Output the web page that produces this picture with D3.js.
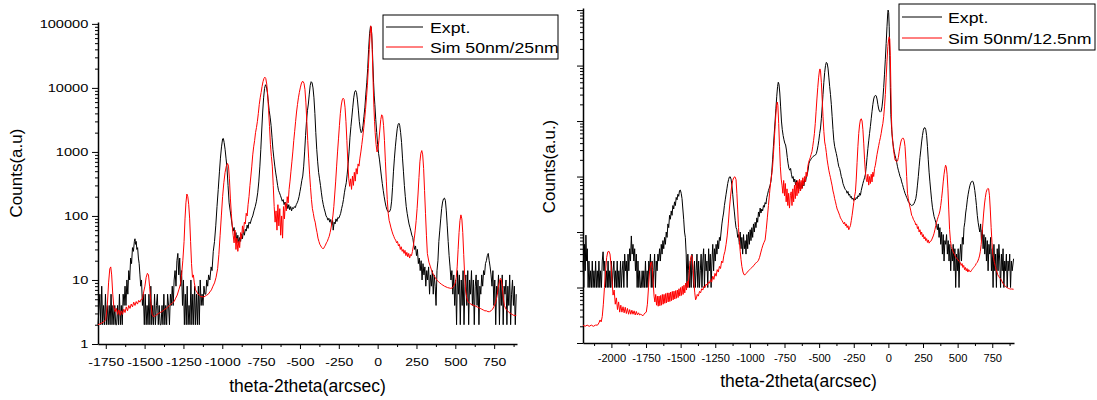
<!DOCTYPE html>
<html>
<head>
<meta charset="utf-8">
<script src="https://cdn.jsdelivr.net/npm/d3@7"></script>
<style>
  body { margin: 0; background: #fff; }
  svg { display: block; font-family: "Liberation Sans", Arial, sans-serif; }
</style>
</head>
<body>
<div id="chart"></div>
<script>
// ---- left panel: Expt. vs Sim 50nm/25nm (theta-2theta arcsec, counts) ----
const exptLeft = [
  [-1800,2],[-1788,6],[-1782,2],[-1776,8],[-1770,2],[-1764,4],[-1758,2],[-1752,6],[-1746,2],[-1740,4],[-1734,2],[-1728,4],
  [-1722,2],[-1716,6],[-1710,2],[-1704,4],[-1698,2],[-1692,4],[-1686,2],[-1680,2],[-1674,4],[-1668,2],[-1662,6],[-1656,2],
  [-1650,4],[-1644,2],[-1638,6],[-1632,4],[-1626,8],[-1620,4],[-1614,10],[-1608,6],[-1602,14],[-1596,10],[-1590,22],[-1584,18],
  [-1578,32],[-1572,28],[-1566,40],[-1562,44],[-1558,36],[-1554,40],[-1550,30],[-1545,32],[-1540,22],[-1535,18],[-1530,12],
  [-1525,8],[-1520,10],[-1514,4],[-1508,6],[-1502,2],[-1496,6],[-1490,2],[-1484,4],[-1478,2],[-1472,6],[-1466,2],[-1460,8],
  [-1454,2],[-1448,4],[-1442,2],[-1436,6],[-1430,2],[-1424,4],[-1418,6],[-1412,2],[-1406,4],[-1400,2],[-1394,2],[-1388,4],
  [-1382,2],[-1376,6],[-1370,2],[-1364,4],[-1358,2],[-1352,6],[-1346,4],[-1340,2],[-1334,6],[-1328,4],[-1322,8],[-1316,4],
  [-1310,10],[-1304,14],[-1298,8],[-1292,20],[-1286,26],[-1280,12],[-1274,22],[-1268,8],[-1262,14],[-1256,4],[-1250,10],
  [-1244,2],[-1238,6],[-1232,2],[-1226,8],[-1220,2],[-1214,4],[-1208,2],[-1202,10],[-1196,2],[-1190,6],[-1184,2],[-1178,8],
  [-1172,2],[-1166,6],[-1160,2],[-1154,8],[-1148,2],[-1142,10],[-1136,4],[-1130,6],[-1124,4],[-1118,8],[-1112,6],[-1106,6],
  [-1100,10],[-1094,8],[-1088,12],[-1080,10],[-1072,16],[-1066,14],[-1058,28],[-1050,40],[-1042,70],[-1034,140],[-1026,260],
  [-1018,500],[-1012,800],[-1005,1200],[-998,1600],[-993,1620],[-988,1400],[-982,1100],[-976,800],[-970,580],[-963,300],
  [-956,160],[-949,120],[-942,90],[-936,70],[-930,58],[-924,66],[-918,46],[-912,55],[-906,38],[-900,50],[-894,36],[-888,46],
  [-882,40],[-876,52],[-870,44],[-864,60],[-858,50],[-852,62],[-846,58],[-840,72],[-834,64],[-828,80],[-820,76],[-812,90],
  [-804,100],[-796,120],[-788,140],[-780,170],[-772,230],[-765,340],[-758,600],[-752,1100],[-746,2200],[-740,4200],[-734,7000],
  [-728,9800],[-722,11200],[-716,10500],[-710,8500],[-704,6200],[-698,4400],[-692,3500],[-686,2600],[-680,1700],[-674,1100],
  [-668,800],[-662,600],[-656,470],[-650,380],[-644,300],[-638,250],[-632,230],[-626,210],[-620,190],[-614,170],[-608,180],
  [-602,150],[-596,165],[-590,140],[-584,155],[-578,130],[-572,150],[-566,125],[-560,140],[-554,120],[-548,135],[-542,130],
  [-536,140],[-530,135],[-524,150],[-518,160],[-512,175],[-506,200],[-500,240],[-494,290],[-488,360],[-482,420],[-476,600],
  [-470,1000],[-464,1800],[-458,3000],[-452,4400],[-446,5600],[-440,8000],[-434,11000],[-428,12500],[-422,12000],[-416,10000],
  [-410,7000],[-404,4000],[-398,2000],[-392,1100],[-386,700],[-380,480],[-374,380],[-368,300],[-362,230],[-356,180],[-350,150],
  [-344,130],[-338,115],[-332,100],[-326,95],[-320,86],[-314,92],[-308,80],[-302,88],[-296,72],[-290,85],[-286,60],[-280,80],
  [-274,75],[-268,90],[-262,82],[-256,95],[-250,92],[-244,100],[-238,110],[-232,130],[-226,150],[-220,180],[-214,230],[-208,280],
  [-202,330],[-196,450],[-190,650],[-184,1000],[-178,1700],[-172,2500],[-166,3500],[-160,5000],[-154,7000],[-148,8600],
  [-142,9100],[-136,8500],[-130,6500],[-124,4500],[-118,3000],[-112,2300],[-106,2000],[-100,2100],[-94,2600],[-88,3600],
  [-82,5000],[-76,8000],[-70,12000],[-64,20000],[-58,40000],[-52,70000],[-46,92000],[-42,90000],[-38,70000],[-34,40000],
  [-30,22000],[-26,12000],[-22,7500],[-18,5500],[-12,3200],[-6,2000],[0,1300],[6,950],[12,750],[18,560],[24,420],[30,320],
  [36,250],[42,200],[48,165],[54,140],[60,125],[66,117],[72,115],[78,118],[84,130],[90,170],[96,280],[102,500],[108,800],
  [114,1200],[120,1700],[126,2300],[132,2700],[137,2800],[142,2600],[148,2000],[154,1400],[160,800],[166,500],[172,300],
  [178,200],[184,140],[190,110],[196,90],[202,75],[208,66],[214,58],[220,50],[226,46],[232,36],[238,30],[244,34],[250,24],
  [256,30],[262,18],[268,22],[274,14],[280,20],[286,10],[292,18],[298,12],[304,16],[310,8],[316,14],[322,10],[328,16],[334,6],
  [340,12],[346,8],[352,14],[358,6],[364,12],[370,8],[376,4],[382,14],[388,20],[394,40],[400,60],[406,90],[412,130],[418,165],
  [424,185],[430,190],[436,175],[442,120],[448,70],[454,40],[460,24],[466,16],[472,10],[478,14],[484,6],[490,12],[496,4],
  [502,10],[508,2],[514,14],[520,6],[526,12],[532,2],[538,10],[544,4],[550,14],[556,2],[562,8],[568,12],[574,4],[580,14],
  [586,2],[592,10],[598,6],[604,14],[610,4],[616,10],[622,2],[628,8],[634,12],[640,4],[646,10],[652,2],[658,8],[664,6],
  [670,12],[676,8],[682,14],[688,12],[694,18],[700,20],[706,24],[712,26],[718,20],[724,16],[730,12],[736,8],[742,14],[748,4],
  [754,10],[760,2],[766,8],[772,6],[778,12],[784,2],[790,10],[796,4],[802,12],[808,2],[814,8],[820,6],[826,10],[832,2],
  [838,8],[844,4],[850,12],[856,2],[862,6],[868,10],[874,4],[880,8],[886,2],[892,6]
];

const simLeft = [
  [-1800,2],[-1780,2.1],[-1765,2.2],[-1750,2.4],[-1740,4],[-1732,9],[-1724,15],[-1718,16],[-1712,12],[-1705,6],[-1698,3.8],
  [-1690,3.2],[-1682,3.6],[-1674,2.9],[-1666,3.4],[-1658,2.8],[-1650,3.3],[-1642,2.9],[-1634,3.5],[-1626,3.1],[-1618,3.8],
  [-1610,3.3],[-1602,4],[-1594,3.6],[-1586,4.2],[-1578,3.8],[-1570,4.5],[-1562,4],[-1554,4.6],[-1546,4.2],[-1538,4.8],
  [-1530,4.5],[-1522,5],[-1514,5],[-1506,6.5],[-1498,8],[-1490,11],[-1482,12.7],[-1475,12],[-1468,8],[-1460,4.5],[-1452,2.9],
  [-1444,2.7],[-1436,2.7],[-1428,2.8],[-1420,2.9],[-1410,3],[-1400,3.1],[-1390,3.2],[-1380,3.3],[-1370,3.5],[-1360,3.6],
  [-1350,3.8],[-1340,4],[-1330,4.2],[-1320,4.4],[-1310,4.6],[-1300,5.2],[-1290,5.8],[-1280,7],[-1270,8.5],[-1262,12],
  [-1254,20],[-1246,40],[-1240,90],[-1234,160],[-1228,220],[-1222,200],[-1216,150],[-1210,90],[-1204,40],[-1198,18],
  [-1192,11],[-1186,12],[-1180,9],[-1172,7],[-1164,6.5],[-1156,6],[-1148,5.8],[-1140,5.5],[-1130,5.5],[-1120,5.4],[-1110,5.6],
  [-1100,5.8],[-1090,6],[-1080,6.5],[-1070,7],[-1060,8],[-1050,9],[-1040,11],[-1030,15],[-1022,25],[-1014,50],[-1006,100],
  [-998,200],[-990,330],[-982,480],[-974,600],[-966,660],[-960,600],[-954,380],[-948,190],[-942,110],[-936,70],[-930,50],
  [-924,38],[-918,60],[-912,30],[-906,45],[-900,28],[-894,40],[-888,32],[-882,55],[-876,44],[-870,70],[-864,55],[-858,80],
  [-852,75],[-846,110],[-840,100],[-834,150],[-828,200],[-822,300],[-816,420],[-810,600],[-804,900],[-798,1200],[-792,1500],
  [-786,2000],[-780,2400],[-774,3000],[-768,4000],[-762,5500],[-756,7000],[-750,8500],[-744,10500],[-738,12500],[-732,14000],
  [-726,14700],[-720,14000],[-714,11500],[-708,8000],[-702,4500],[-696,2500],[-690,1300],[-684,850],[-678,600],[-672,300],
  [-666,140],[-660,80],[-654,120],[-648,60],[-642,150],[-636,70],[-630,130],[-624,50],[-618,100],[-612,45],[-606,140],
  [-600,90],[-594,160],[-588,120],[-582,200],[-576,160],[-570,260],[-564,350],[-558,500],[-552,700],[-546,1000],[-540,1500],
  [-534,2100],[-528,3000],[-522,4200],[-516,5500],[-510,7000],[-504,8500],[-498,10000],[-492,11500],[-486,12500],[-480,12600],
  [-474,11800],[-468,9500],[-462,6000],[-456,3000],[-450,1500],[-444,800],[-438,450],[-432,280],[-426,180],[-420,130],
  [-414,110],[-408,90],[-402,80],[-396,65],[-390,55],[-384,45],[-378,40],[-372,36],[-366,34],[-360,32],[-354,31],[-348,31],
  [-342,33],[-336,35],[-330,38],[-324,40],[-318,44],[-312,48],[-306,55],[-300,65],[-294,80],[-288,100],[-282,140],[-276,220],
  [-270,350],[-264,600],[-258,1000],[-252,1600],[-246,2600],[-240,4000],[-234,5400],[-228,6500],[-222,6900],[-216,6600],
  [-210,5000],[-204,3000],[-198,1500],[-192,700],[-186,380],[-180,290],[-174,380],[-168,260],[-162,420],[-156,300],[-150,480],
  [-144,350],[-138,550],[-132,450],[-126,650],[-120,600],[-114,800],[-108,1000],[-102,1300],[-96,1700],[-90,2300],[-84,3200],
  [-78,4600],[-72,7000],[-66,11000],[-60,20000],[-54,40000],[-48,70000],[-44,93000],[-40,80000],[-36,50000],[-32,22000],
  [-28,10000],[-24,5000],[-20,3000],[-16,2000],[-10,1300],[-4,1000],[2,1100],[8,1500],[14,2200],[20,3200],[26,3800],[32,3600],
  [38,2600],[44,1500],[50,700],[56,350],[62,180],[68,110],[74,85],[80,75],[86,65],[92,58],[98,52],[104,48],[110,44],[116,42],
  [122,38],[128,40],[134,34],[140,36],[146,30],[152,33],[158,28],[164,30],[170,26],[176,29],[182,24],[188,27],[194,23],
  [200,26],[206,22],[212,25],[218,24],[224,28],[230,34],[236,45],[242,60],[248,85],[254,130],[260,220],[266,400],[272,700],
  [278,950],[284,1050],[290,900],[296,550],[302,250],[308,110],[314,50],[320,26],[330,19],[340,16],[350,13.5],[360,12],
  [370,11],[380,10],[390,9.5],[400,9],[410,8.6],[420,8.3],[430,8],[440,7.8],[450,7.6],[460,7.5],[470,7.4],[480,7.5],[490,8],
  [500,9],[506,11],[512,16],[518,30],[524,55],[530,85],[536,104],[542,90],[548,55],[554,25],[560,12],[566,7],[572,5.5],
  [580,4.6],[590,4.4],[600,4.2],[610,4.1],[620,4],[630,3.9],[640,3.8],[650,3.7],[660,3.6],[670,3.5],[680,3.4],[690,3.3],
  [700,3.3],[710,3.2],[720,3.2],[730,3.3],[740,3.5],[750,3.9],[760,4.5],[768,5.5],[776,7.5],[784,9.5],[790,10.6],[796,10],
  [802,8],[808,5.5],[816,4],[826,3.5],[836,3.3],[846,3.1],[856,3],[866,2.9],[876,2.8],[892,2.8]
];

// ---- right panel: Expt. vs Sim 50nm/12.5nm ----
const exptRight = [
  [-2205,30],[-2199,10],[-2194,60],[-2189,20],[-2184,88],[-2179,30],[-2174,50],[-2168,10],[-2162,30],[-2156,10],[-2150,20],
  [-2144,10],[-2138,30],[-2132,10],[-2126,20],[-2120,10],[-2114,30],[-2108,10],[-2102,20],[-2096,10],[-2090,30],[-2084,10],
  [-2078,20],[-2072,10],[-2066,30],[-2060,44],[-2054,20],[-2048,30],[-2042,10],[-2036,20],[-2030,10],[-2024,30],[-2018,10],
  [-2012,20],[-2006,10],[-2000,30],[-1994,10],[-1988,20],[-1982,30],[-1976,10],[-1970,20],[-1964,10],[-1958,30],[-1952,10],
  [-1946,20],[-1940,10],[-1934,30],[-1928,10],[-1922,20],[-1916,30],[-1910,10],[-1904,40],[-1898,20],[-1892,30],[-1886,10],
  [-1880,40],[-1874,20],[-1868,50],[-1862,30],[-1856,85],[-1850,40],[-1844,60],[-1838,30],[-1832,50],[-1826,20],[-1820,40],
  [-1814,10],[-1808,30],[-1802,10],[-1796,20],[-1790,10],[-1784,10],[-1778,20],[-1772,10],[-1766,20],[-1760,10],[-1754,30],
  [-1748,10],[-1742,20],[-1736,10],[-1730,30],[-1724,20],[-1718,40],[-1712,10],[-1706,30],[-1700,10],[-1694,20],[-1688,40],
  [-1682,10],[-1676,30],[-1670,20],[-1664,40],[-1658,30],[-1652,50],[-1646,30],[-1640,60],[-1634,40],[-1628,70],[-1622,50],
  [-1616,80],[-1610,60],[-1604,100],[-1598,80],[-1592,140],[-1586,120],[-1580,200],[-1574,170],[-1568,240],[-1562,200],
  [-1556,300],[-1550,260],[-1544,350],[-1538,300],[-1532,420],[-1526,380],[-1520,480],[-1514,440],[-1508,560],[-1502,570],
  [-1496,500],[-1490,400],[-1484,260],[-1478,170],[-1472,100],[-1466,80],[-1460,40],[-1454,10],[-1448,40],[-1442,20],
  [-1436,10],[-1430,30],[-1424,10],[-1418,40],[-1412,20],[-1406,10],[-1400,30],[-1394,10],[-1388,20],[-1382,40],[-1376,10],
  [-1370,30],[-1364,10],[-1358,20],[-1352,40],[-1346,10],[-1340,30],[-1334,50],[-1328,10],[-1322,40],[-1316,20],[-1310,30],
  [-1304,10],[-1298,50],[-1292,20],[-1286,40],[-1280,10],[-1274,30],[-1268,60],[-1262,20],[-1256,50],[-1250,30],[-1244,60],
  [-1238,40],[-1232,70],[-1226,50],[-1220,80],[-1214,70],[-1208,100],[-1202,140],[-1196,180],[-1190,220],[-1184,300],
  [-1178,380],[-1172,480],[-1166,600],[-1160,750],[-1154,880],[-1148,980],[-1142,990],[-1136,900],[-1130,700],[-1124,480],
  [-1118,320],[-1112,230],[-1106,160],[-1100,120],[-1094,110],[-1088,80],[-1082,90],[-1076,60],[-1070,100],[-1064,50],
  [-1058,80],[-1052,40],[-1046,90],[-1040,50],[-1034,70],[-1028,40],[-1022,90],[-1016,50],[-1010,100],[-1004,60],[-998,110],
  [-992,70],[-986,120],[-980,80],[-974,140],[-968,100],[-962,150],[-956,120],[-950,180],[-944,150],[-938,230],[-932,190],
  [-926,270],[-920,220],[-914,260],[-908,240],[-902,300],[-896,280],[-890,340],[-884,320],[-878,420],[-872,480],[-866,560],
  [-860,620],[-854,700],[-848,820],[-842,1200],[-836,2000],[-830,3500],[-824,6000],[-818,10000],[-812,17000],[-806,28000],
  [-800,42000],[-795,50000],[-790,46000],[-784,32000],[-778,18000],[-772,10000],[-766,7000],[-760,5500],[-754,4600],
  [-748,4000],[-742,3700],[-736,3000],[-730,2200],[-724,1700],[-718,1400],[-712,1300],[-706,1400],[-700,1100],[-694,930],
  [-688,1000],[-682,800],[-676,900],[-670,700],[-664,850],[-658,620],[-652,780],[-646,600],[-640,800],[-634,560],[-628,750],
  [-622,620],[-616,820],[-610,680],[-604,900],[-598,800],[-592,1000],[-586,1100],[-580,1300],[-574,1700],[-568,1900],
  [-562,2000],[-556,2100],[-550,2200],[-544,2300],[-538,2350],[-532,2400],[-526,2450],[-520,2600],[-514,3000],[-508,3600],
  [-502,4500],[-496,6000],[-490,7500],[-484,11000],[-478,18000],[-472,30000],[-466,50000],[-460,75000],[-454,100000],
  [-448,114000],[-442,110000],[-436,90000],[-430,62000],[-424,42000],[-418,30000],[-412,20000],[-406,12000],[-400,7000],
  [-394,4500],[-388,3500],[-382,3000],[-376,2600],[-370,2200],[-364,1800],[-358,1500],[-352,1400],[-346,1200],[-340,1000],
  [-334,900],[-328,750],[-322,680],[-316,620],[-310,580],[-304,560],[-298,500],[-292,540],[-286,460],[-280,480],[-274,420],
  [-268,440],[-262,390],[-256,410],[-250,370],[-244,400],[-238,380],[-232,420],[-226,400],[-220,450],[-214,430],[-208,500],
  [-202,460],[-196,560],[-190,650],[-184,750],[-178,850],[-172,950],[-166,1100],[-160,1500],[-154,2200],[-148,3200],
  [-142,4400],[-136,6000],[-130,8000],[-124,11000],[-118,15000],[-112,20000],[-106,25000],[-100,28000],[-94,29000],
  [-88,28500],[-82,25000],[-76,20000],[-70,16500],[-64,15000],[-58,14500],[-52,15000],[-46,18000],[-40,25000],[-34,40000],
  [-28,70000],[-22,130000],[-16,250000],[-10,500000],[-5,850000],[-2,1000000],[2,900000],[6,500000],[10,150000],[14,40000],
  [18,13000],[24,7000],[30,4500],[36,3500],[42,2800],[48,2400],[54,2100],[60,1800],[66,1500],[72,1300],[78,1150],[84,1000],
  [90,930],[96,800],[102,720],[108,630],[114,560],[120,500],[126,460],[132,420],[138,390],[144,350],[150,340],[156,320],
  [162,310],[168,300],[174,306],[180,310],[186,330],[192,360],[198,400],[204,500],[210,700],[216,1000],[222,1500],[228,2200],
  [234,3000],[240,4200],[246,5500],[252,6800],[258,7500],[264,7600],[270,7000],[276,5500],[282,3500],[288,2000],[294,1200],
  [300,800],[306,550],[312,380],[318,280],[324,230],[330,190],[336,170],[342,150],[348,130],[354,110],[360,140],[366,80],
  [372,120],[378,60],[384,100],[390,40],[396,90],[402,30],[408,70],[414,60],[420,90],[426,40],[432,70],[438,30],[444,60],
  [450,20],[456,50],[462,30],[468,60],[474,20],[480,50],[486,10],[492,40],[498,20],[504,50],[510,10],[516,40],[522,60],
  [528,30],[534,80],[540,60],[546,120],[552,150],[558,220],[564,280],[570,380],[576,480],[582,580],[588,680],[594,760],
  [600,810],[606,830],[612,800],[618,700],[624,560],[630,420],[636,300],[642,200],[648,150],[654,120],[660,100],[666,140],
  [672,70],[678,110],[684,50],[690,90],[696,40],[702,80],[708,30],[714,70],[720,20],[726,60],[732,40],[738,80],[744,20],
  [750,50],[756,10],[762,60],[768,20],[774,40],[780,10],[786,50],[792,20],[798,60],[804,30],[810,10],[816,40],[822,20],
  [828,50],[834,10],[840,30],[846,20],[852,40],[858,10],[864,30],[870,20],[876,40],[882,10],[888,30],[894,20],[904,33]
];

const simRight = [
  [-2205,2.1],[-2190,2],[-2175,2.1],[-2160,2],[-2145,2.1],[-2130,2],[-2115,2.1],[-2100,2.1],[-2090,2.3],[-2082,2.6],
  [-2074,2.4],[-2066,3],[-2058,5],[-2050,10],[-2042,20],[-2034,35],[-2026,44],[-2018,45],[-2010,40],[-2002,25],[-1994,12],
  [-1988,7.3],[-1980,9],[-1972,5],[-1964,6.5],[-1956,4],[-1948,5.5],[-1940,3.6],[-1932,4.8],[-1924,3.6],[-1916,4.5],
  [-1908,3.5],[-1900,4.4],[-1892,3.4],[-1884,4.2],[-1876,3.3],[-1868,4],[-1860,3.3],[-1852,3.9],[-1844,3.3],[-1836,3.8],
  [-1828,3.2],[-1820,3.7],[-1812,3.2],[-1804,3.5],[-1796,3.2],[-1788,3.3],[-1780,3.2],[-1772,3.1],[-1764,3.3],[-1756,3.5],
  [-1748,3.6],[-1740,5],[-1732,10],[-1724,20],[-1716,28],[-1710,29],[-1704,22],[-1698,12],[-1692,7],[-1686,5.5],[-1680,7.5],
  [-1674,4.8],[-1668,7],[-1662,4.6],[-1656,7],[-1650,4.7],[-1644,7.2],[-1638,4.8],[-1632,7.5],[-1626,5],[-1620,7.5],
  [-1614,5.2],[-1608,7.8],[-1602,5.3],[-1596,8],[-1590,5.5],[-1584,8],[-1578,5.6],[-1572,8.3],[-1566,5.8],[-1560,8.5],
  [-1554,6],[-1548,8.6],[-1542,6.2],[-1536,8.8],[-1530,6.4],[-1524,9],[-1518,6.6],[-1512,9.5],[-1506,7],[-1500,10],
  [-1494,7.2],[-1488,10.5],[-1482,7.5],[-1476,11],[-1470,8],[-1464,12],[-1458,9],[-1452,13],[-1446,10],[-1440,16],[-1434,25],
  [-1428,34],[-1422,38],[-1416,35],[-1410,22],[-1404,12],[-1398,8],[-1392,6],[-1386,6.5],[-1380,7.5],[-1372,7],[-1364,8.5],
  [-1356,8],[-1348,9.5],[-1340,9],[-1332,10.5],[-1324,10],[-1316,11.5],[-1308,11],[-1300,12.5],[-1292,12],[-1284,14],
  [-1276,12.5],[-1268,16],[-1260,14],[-1252,18],[-1244,16],[-1236,21],[-1228,19],[-1220,24],[-1212,22],[-1204,30],[-1196,28],
  [-1188,38],[-1180,45],[-1172,60],[-1164,85],[-1156,140],[-1148,260],[-1140,430],[-1132,650],[-1124,850],[-1116,960],
  [-1108,990],[-1100,880],[-1094,500],[-1088,250],[-1082,120],[-1076,70],[-1070,45],[-1064,32],[-1058,24],[-1050,19],
  [-1042,17],[-1034,17],[-1026,18],[-1018,19],[-1010,20],[-1002,21],[-994,22],[-986,23],[-978,24],[-970,25],[-962,27],
  [-954,28],[-946,29],[-938,31],[-930,35],[-922,42],[-914,50],[-906,58],[-898,65],[-890,72],[-882,110],[-874,180],[-866,300],
  [-858,500],[-850,800],[-842,1100],[-836,1500],[-830,2500],[-824,4500],[-818,8000],[-812,14000],[-806,20000],[-802,22000],
  [-798,19000],[-792,9000],[-786,3500],[-780,1500],[-774,900],[-768,700],[-762,500],[-756,850],[-750,450],[-744,750],
  [-738,350],[-732,600],[-726,300],[-720,500],[-714,270],[-708,450],[-702,530],[-696,300],[-690,600],[-684,350],[-678,700],
  [-672,400],[-666,800],[-660,450],[-654,850],[-648,500],[-642,900],[-636,550],[-630,850],[-624,600],[-618,950],[-612,700],
  [-606,1000],[-600,800],[-594,1200],[-588,1000],[-582,1500],[-576,1800],[-570,2000],[-564,2200],[-558,2500],[-552,2800],
  [-546,3500],[-540,4500],[-534,6000],[-528,9000],[-522,15000],[-516,25000],[-510,40000],[-504,60000],[-498,80000],
  [-494,87000],[-490,80000],[-484,50000],[-478,25000],[-472,12000],[-466,6500],[-460,4200],[-454,3500],[-448,2700],
  [-442,2000],[-436,1600],[-430,1300],[-424,1100],[-418,950],[-412,800],[-406,680],[-400,550],[-394,480],[-388,400],
  [-382,350],[-376,300],[-370,260],[-364,240],[-358,220],[-352,200],[-346,180],[-340,170],[-334,160],[-328,150],[-322,140],
  [-316,150],[-310,130],[-304,140],[-298,120],[-292,130],[-286,110],[-280,120],[-274,130],[-268,160],[-262,200],[-256,260],
  [-250,340],[-244,440],[-238,530],[-232,900],[-226,1800],[-220,3500],[-214,6000],[-208,8500],[-202,10500],[-196,11000],
  [-190,10000],[-184,7000],[-178,4000],[-172,2000],[-166,1200],[-160,900],[-154,800],[-148,1100],[-142,700],[-136,1000],
  [-130,750],[-124,1100],[-118,800],[-112,1200],[-106,1000],[-100,1400],[-94,1600],[-88,2000],[-82,2500],[-76,3000],
  [-70,3600],[-64,4300],[-58,5000],[-52,6000],[-46,7500],[-40,9000],[-34,12000],[-28,18000],[-22,30000],[-16,60000],
  [-10,120000],[-4,220000],[2,300000],[6,330000],[10,300000],[14,150000],[18,40000],[22,12000],[26,6000],[30,4900],
  [36,3200],[42,2500],[48,2000],[54,1900],[60,1850],[66,1900],[72,2200],[78,2800],[84,3500],[90,4200],[96,4700],[102,4900],
  [108,4900],[114,4500],[120,3500],[126,2000],[132,1000],[138,500],[144,400],[150,330],[156,280],[162,240],[168,200],
  [174,190],[180,170],[186,160],[192,150],[198,134],[204,140],[210,115],[216,125],[222,100],[228,110],[234,90],[240,100],
  [246,82],[252,90],[258,75],[264,82],[270,70],[276,76],[282,65],[288,72],[294,63],[300,67],[306,68],[312,72],[318,78],
  [324,85],[330,95],[336,110],[342,130],[348,150],[354,170],[360,190],[366,210],[372,240],[378,300],[384,400],[390,550],
  [396,800],[402,1100],[408,1400],[413,1600],[418,1500],[424,1100],[430,600],[436,250],[442,110],[448,70],[454,55],[460,50],
  [466,45],[472,42],[478,39],[484,36],[490,34],[496,33],[502,32],[508,30],[514,29],[520,28],[526,25],[532,27],[538,23],
  [544,25],[550,21],[556,23],[562,20],[568,22],[574,19],[580,21],[586,20],[592,19],[598,20],[604,21],[610,22],[616,23],
  [622,24],[628,25],[634,27],[640,28],[646,30],[652,33],[658,37],[664,45],[670,60],[676,90],[682,140],[688,220],[694,320],
  [700,420],[706,520],[712,580],[718,610],[724,600],[730,450],[736,250],[742,120],[748,65],[754,40],[760,33],[766,28],
  [772,24],[778,21],[784,19],[790,17],[796,16],[802,15],[808,14.6],[814,14],[820,13],[826,12],[832,11.5],[838,11],
  [844,10.5],[850,10.2],[856,10],[862,9.8],[868,9.6],[874,9.5],[880,9.4],[890,9.4],[904,9.3]
];

// tick labels
const leftXTicks = [-1750, -1500, -1250, -1000, -750, -500, -250, 0, 250, 500, 750];
const rightXTicks = [-2000, -1750, -1500, -1250, -1000, -750, -500, -250, 0, 250, 500, 750];
const leftYTicks = [1, 10, 100, 1000, 10000, 100000];
const rightYTicks = [1, 10, 100, 1000, 10000, 100000, 1000000];
const leftLegend = ["Expt.", "Sim 50nm/25nm"];
const rightLegend = ["Expt.", "Sim 50nm/12.5nm"];
const xTitle = "theta-2theta(arcsec)";

const svg = d3.select("#chart").append("svg")
    .attr("width", 1097)
    .attr("height", 400);

// plain hyphen, no thousands separator (like the original plot)
const plainNum = d => String(d);

function minorLog(domain) {
    const out = [];
    for (let d = 1; d < domain[1]; d *= 10) {
        for (let k = 2; k <= 9; k++) {
            if (k * d < domain[1]) out.push(k * d);
        }
    }
    return out;
}

function drawPanel(p) {
    const x = d3.scaleLinear().domain(p.xDomain).range(p.xRange);
    const y = d3.scaleLog().domain(p.yDomain).range(p.yRange);
    const g = svg.append("g");
    const bottom = p.yRange[0];

    // minor x ticks halfway between labels
    const xMinor = p.xTicks.map(v => v - 125).concat([p.xTicks[p.xTicks.length - 1] + 125])
        .filter(v => v >= p.xDomain[0] && v <= p.xDomain[1]);
    g.append("g")
        .attr("transform", `translate(0,${bottom})`)
        .call(d3.axisBottom(x).tickValues(xMinor).tickSize(3).tickFormat(""))
        .call(a => a.select(".domain").remove());

    const xAxis = g.append("g")
        .attr("transform", `translate(0,${bottom})`)
        .call(d3.axisBottom(x).tickValues(p.xTicks).tickSizeInner(5).tickSizeOuter(0)
            .tickPadding(p.xPad).tickFormat(plainNum));
    xAxis.select(".domain").attr("stroke-width", 1.5);
    xAxis.selectAll("text")
        .style("font-size", p.tickFont + "px")
        .style("font-family", "Liberation Sans, Arial, sans-serif")
        .attr("fill", "#000")
        .attr("transform", `scale(${p.tickStretch},1)`);

    // y axis, log
    g.append("g")
        .attr("transform", `translate(${p.xRange[0]},0)`)
        .call(d3.axisLeft(y).tickValues(minorLog(p.yDomain)).tickSize(3).tickFormat(""))
        .call(a => a.select(".domain").remove());

    const yAxis = g.append("g")
        .attr("transform", `translate(${p.xRange[0]},0)`)
        .call(d3.axisLeft(y).tickValues(p.yTicks).tickSizeInner(6).tickSizeOuter(0)
            .tickFormat(p.showYLabels ? plainNum : ""));
    yAxis.select(".domain").attr("stroke-width", 1.5);
    yAxis.selectAll("text")
        .style("font-size", p.yTickFont + "px")
        .style("font-family", "Liberation Sans, Arial, sans-serif")
        .attr("fill", "#000")
        .attr("x", -9.7 / p.yTickStretch)
        .attr("transform", `scale(${p.yTickStretch},1)`);

    // curves
    const line = d3.line().x(d => x(d[0])).y(d => y(d[1]));
    g.append("path")
        .datum(p.expt)
        .attr("fill", "none")
        .attr("stroke", "#000")
        .attr("stroke-width", 1)
        .attr("d", line);
    g.append("path")
        .datum(p.sim)
        .attr("fill", "none")
        .attr("stroke", "#ff0000")
        .attr("stroke-width", 1)
        .attr("d", line);

    // titles
    g.append("text")
        .attr("x", (p.xRange[0] + p.xRange[1]) / 2)
        .attr("y", p.xTitleY)
        .attr("text-anchor", "middle")
        .style("font-size", "17.5px")
        .text(xTitle);
    g.append("text")
        .attr("transform", `translate(${p.yTitle.x},${p.yTitle.y}) rotate(-90)`)
        .attr("text-anchor", "middle")
        .style("font-size", "17px")
        .text(p.yTitle.text);

    // legend
    const lg = p.legend;
    g.append("rect")
        .attr("x", lg.x).attr("y", lg.y)
        .attr("width", lg.w).attr("height", lg.h)
        .attr("fill", "#fff")
        .attr("stroke", "#000")
        .attr("stroke-width", 1);
    const colors = ["#000", "#ff0000"];
    p.legendLabels.forEach((label, i) => {
        g.append("line")
            .attr("x1", lg.lineX[0]).attr("x2", lg.lineX[1])
            .attr("y1", lg.rowY[i]).attr("y2", lg.rowY[i])
            .attr("stroke", colors[i])
            .attr("stroke-width", 1);
        g.append("text")
            .attr("transform", `translate(${lg.textX},${lg.rowY[i] + 5.5}) scale(1.18,1)`)
            .style("font-size", "15px")
            .text(label);
    });
}

drawPanel({
    expt: exptLeft, sim: simLeft,
    xDomain: [-1800, 897], xRange: [98, 517],
    yDomain: [1, 1.07e5], yRange: [344, 22],
    xTicks: leftXTicks, yTicks: leftYTicks, showYLabels: true,
    tickFont: 11.5, tickStretch: 1.22, xPad: 8.5,
    yTickFont: 11.5, yTickStretch: 1.27,
    xTitleY: 392,
    yTitle: { text: "Counts(a.u)", x: 21.5, y: 173 },
    legendLabels: leftLegend,
    legend: { x: 383, y: 15, w: 175, h: 44, lineX: [386, 423], rowY: [27, 47], textX: 430 }
});

drawPanel({
    expt: exptRight, sim: simRight,
    xDomain: [-2205, 907], xRange: [583, 1014],
    yDomain: [1, 1.09e6], yRange: [343, 8],
    xTicks: rightXTicks, yTicks: rightYTicks, showYLabels: false,
    tickFont: 10.5, tickStretch: 1.06, xPad: 6.8,
    yTickFont: 10.5, yTickStretch: 1.06,
    xTitleY: 387,
    yTitle: { text: "Counts(a.u.)", x: 555, y: 166.5 },
    legendLabels: rightLegend,
    legend: { x: 899, y: 4, w: 196, h: 46, lineX: [902, 942], rowY: [17, 38], textX: 948 }
});
</script>
</body>
</html>
